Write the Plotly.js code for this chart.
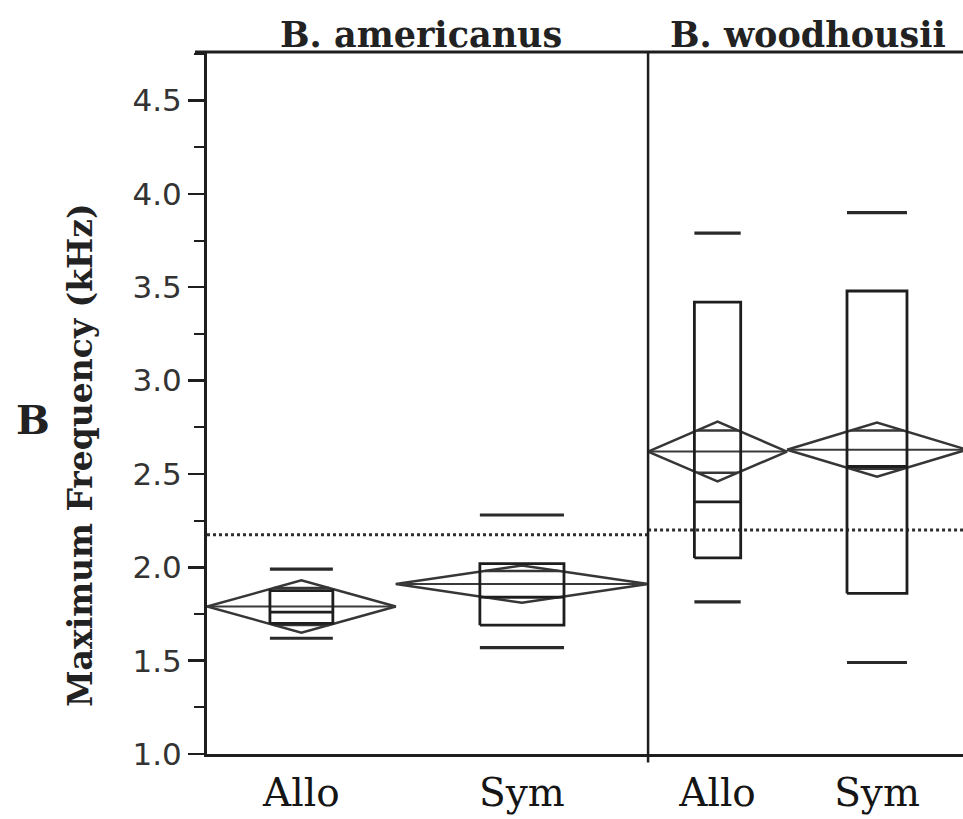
<!DOCTYPE html>
<html>
<head>
<meta charset="utf-8">
<script src="https://cdn.plot.ly/plotly-3.0.1.min.js"></script>
<style>
  html, body { margin: 0; padding: 0; background: #ffffff; }
  #chart { width: 963px; height: 819px; }
</style>
</head>
<body>
<div id="chart"></div>
<script>
// ---------------- data ----------------
const species = ['B. americanus', 'B. woodhousii'];
const groups = ['Allo', 'Sym', 'Allo', 'Sym'];
const groupSpecies = [0, 0, 1, 1];
const p90 = [1.99, 2.28, 3.79, 3.90];
const q3 = [1.875, 2.02, 3.42, 3.48];
const medians = [1.76, 1.84, 2.35, 2.54];
const q1 = [1.70, 1.69, 2.05, 1.86];
const p10 = [1.62, 1.57, 1.815, 1.49];
const means = [1.79, 1.91, 2.62, 2.63];
const ciHalf = [0.14, 0.10, 0.16, 0.145];
const grandMeans = [2.175, 2.20];
const yTickVals = [1.0, 1.5, 2.0, 2.5, 3.0, 3.5, 4.0, 4.5];
const yTitle = 'Maximum Frequency (kHz)';
const panelLabel = 'B';

// ---------------- layout constants (positions) ----------------
const segEdges = [0, 0.428, 1.0, 1.315, 1.723];   // group slots along x
const panelEdges = [0, 1.0, 1.723];
const xMax = 1.714;
const yRange = [1.0, 4.76];

const ink = '#1e1e1e';
const boxX = [], boxY = [], medX = [], medY = [], whX = [], whY = [];
const diaX = [], diaY = [], meanX = [], meanY = [], ovX = [], ovY = [];
const centers = [];
for (let i = 0; i < groups.length; i++) {
  const s0 = segEdges[i], s1 = segEdges[i + 1];
  const c = (s0 + s1) / 2, hw = (s1 - s0) / 2;
  centers.push(c);
  const bx0 = c - hw / 3, bx1 = c + hw / 3;
  boxX.push(bx0, bx1, bx1, bx0, bx0, null);
  boxY.push(q1[i], q1[i], q3[i], q3[i], q1[i], null);
  medX.push(bx0, bx1, null); medY.push(medians[i], medians[i], null);
  whX.push(bx0, bx1, null, bx0, bx1, null);
  whY.push(p10[i], p10[i], null, p90[i], p90[i], null);
  const m = means[i], h = ciHalf[i];
  diaX.push(s0, c, s1, c, s0, null);
  diaY.push(m, m + h, m, m - h, m, null);
  meanX.push(s0, s1, null); meanY.push(m, m, null);
  const k = 1 - 1 / Math.SQRT2;
  const d = h / Math.SQRT2;
  ovX.push(c - k * hw, c + k * hw, null, c - k * hw, c + k * hw, null);
  ovY.push(m + d, m + d, null, m - d, m - d, null);
}
const gmX = [], gmY = [];
for (let s = 0; s < species.length; s++) {
  gmX.push(panelEdges[s], Math.min(panelEdges[s + 1], xMax + 0.02), null);
  gmY.push(grandMeans[s], grandMeans[s], null);
}

function lineTrace(x, y, width, color, dash) {
  return { type: 'scatter', mode: 'lines', x: x, y: y, hoverinfo: 'skip',
           showlegend: false, line: { color: color, width: width, dash: dash || 'solid' } };
}

const traces = [
  lineTrace(gmX, gmY, 3, '#2e2e2e', 'dot'),
  lineTrace(diaX, diaY, 2.5, '#363636'),
  lineTrace(meanX, meanY, 2, '#3a3a3a'),
  lineTrace(ovX, ovY, 2.5, '#363636'),
  lineTrace(boxX, boxY, 2.8, ink),
  lineTrace(medX, medY, 2.8, ink),
  lineTrace(whX, whY, 3.2, '#2a2a2a')
];

const annotations = [
  { text: species[0], x: (panelEdges[0] + panelEdges[1]) / 2 - 0.015, xref: 'x', y: 1, yref: 'paper',
    yanchor: 'bottom', xanchor: 'center', showarrow: false, yshift: -5,
    font: { family: 'DejaVu Serif', size: 35, color: '#222', weight: 'bold' } },
  { text: species[1], x: 1.363, xref: 'x', y: 1, yref: 'paper',
    yanchor: 'bottom', xanchor: 'center', showarrow: false, yshift: -5,
    font: { family: 'DejaVu Serif', size: 35, color: '#222', weight: 'bold' } },
  { text: yTitle, x: -0.1667, xref: 'paper', y: 0.426, yref: 'paper', textangle: -90,
    xanchor: 'center', yanchor: 'middle', showarrow: false,
    font: { family: 'DejaVu Serif', size: 33, color: '#222', weight: 'bold' } },
  { text: panelLabel, x: -0.230, xref: 'paper', y: 0.477, yref: 'paper',
    xanchor: 'center', yanchor: 'middle', showarrow: false,
    font: { family: 'DejaVu Serif', size: 40, color: '#222', weight: 'bold' } }
];

const shapes = [
  { type: 'line', xref: 'paper', yref: 'paper', x0: -12 / 756, x1: 1.01, y0: 1, y1: 1,
    line: { color: ink, width: 3 } },
  { type: 'line', xref: 'x', yref: 'paper', x0: panelEdges[1], x1: panelEdges[1], y0: -0.012, y1: 1,
    line: { color: ink, width: 2.5 } }
];

const layout = {
  width: 963, height: 819,
  margin: { l: 207, r: 0, t: 52, b: 65, pad: 0 },
  paper_bgcolor: '#ffffff', plot_bgcolor: '#ffffff',
  showlegend: false,
  xaxis: {
    range: [0, xMax], showgrid: false, zeroline: false,
    showline: true, linecolor: ink, linewidth: 3,
    tickmode: 'array', tickvals: centers, ticktext: groups,
    ticks: '', ticklabelstandoff: 2,
    tickfont: { family: 'DejaVu Serif', size: 39, color: '#151515' }
  },
  yaxis: {
    range: yRange, showgrid: false, zeroline: false,
    showline: true, linecolor: ink, linewidth: 3,
    tickmode: 'array', tickvals: yTickVals, tickformat: '.1f',
    ticks: 'outside', ticklen: 16, tickwidth: 2.5, tickcolor: ink,
    tickfont: { family: 'DejaVu Sans', size: 31, color: '#333' },
    minor: { dtick: 0.25, tick0: 1.0, ticks: 'outside', ticklen: 10, tickwidth: 2, tickcolor: ink }
  },
  annotations: annotations,
  shapes: shapes
};

Plotly.newPlot('chart', traces, layout, { staticPlot: true, displayModeBar: false });
</script>
</body>
</html>
